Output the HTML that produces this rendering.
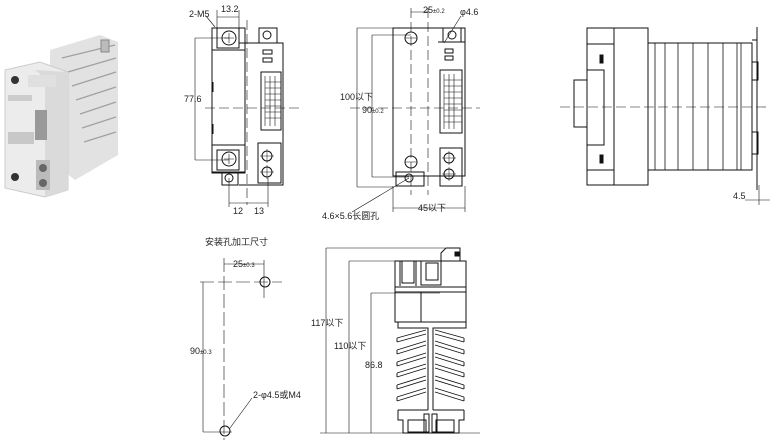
<!DOCTYPE html>
<html><head><meta charset="utf-8"><style>
body{margin:0;background:#fff}
svg{display:block}
text{font-family:"Liberation Sans","Noto Sans CJK SC",sans-serif;fill:#222}
</style></head><body>
<svg width="770" height="440" viewBox="0 0 770 440" xmlns="http://www.w3.org/2000/svg">
<!-- photo -->
<g>
<polygon points="50,50 100,35 118,42 118,155 75,180 50,160" fill="#e2e2e2"/>
<g stroke="#a0a0a0" stroke-width="1.2">
<line x1="62" y1="58" x2="115" y2="45"/><line x1="68" y1="72" x2="116" y2="58"/><line x1="72" y1="86" x2="116" y2="72"/><line x1="76" y1="100" x2="116" y2="87"/><line x1="80" y1="114" x2="116" y2="102"/><line x1="82" y1="128" x2="116" y2="117"/><line x1="84" y1="142" x2="116" y2="132"/></g>
<rect x="101" y="40" width="8" height="12" fill="#bbb" stroke="#888"/>
<polygon points="5,70 40,62 68,72 68,190 45,197 5,188" fill="#ececec" stroke="#ccc"/>
<polygon points="35,70 68,72 68,190 45,197 45,78" fill="#dadada"/>
<rect x="28" y="75" width="28" height="12" fill="#e0e0e0"/>
<circle cx="15" cy="80" r="4" fill="#333"/>
<circle cx="15" cy="177" r="4" fill="#333"/>
<rect x="35" y="110" width="12" height="30" fill="#999"/>
<rect x="8" y="95" width="24" height="6" fill="#ccc"/>
<rect x="8" y="132" width="26" height="12" fill="#c8c8c8"/>
<rect x="36" y="160" width="14" height="30" fill="#bbb"/>
<circle cx="43" cy="168" r="4" fill="#666"/><circle cx="43" cy="183" r="4" fill="#666"/>
</g>
<g fill="none" stroke="#111" stroke-width="1">
<!-- VIEW 1 -->
<rect x="212" y="28" width="33" height="145"/>
<rect x="212" y="28" width="33" height="22"/>
<rect x="217" y="28" width="22" height="20"/>
<circle cx="229" cy="38" r="7"/><path d="M229,33 V43 M224,38 H234" stroke-width="0.6"/>
<rect x="212" y="145" width="33" height="27"/>
<rect x="217" y="150" width="22" height="20"/>
<circle cx="229" cy="159" r="7"/><path d="M229,154 V164 M224,159 H234" stroke-width="0.6"/>
<rect x="222" y="172" width="16" height="13"/><circle cx="229" cy="178" r="4"/>
<path d="M239,43 H283 V185 H239"/>
<rect x="259" y="28" width="18" height="15"/><circle cx="267" cy="35" r="4"/>
<rect x="261" y="72" width="20" height="58"/>
<g stroke-width="0.6"><line x1="265" y1="76" x2="265" y2="126"/><line x1="270" y1="76" x2="270" y2="126"/><line x1="275" y1="76" x2="275" y2="126"/>
<path d="M265,82H281M265,88H281M265,94H281M265,100H281M265,106H281M265,112H281M265,118H281"/></g>
<rect x="263" y="50" width="9" height="4"/><rect x="263" y="58" width="9" height="4"/>
<rect x="258" y="143" width="23" height="40"/>
<circle cx="267" cy="156" r="5"/><circle cx="267" cy="172" r="5"/>
<path d="M267,149V163M260,156H274M267,165V179M260,172H274" stroke-width="0.5"/>
<line x1="213" y1="82" x2="213" y2="92"/><line x1="213" y1="124" x2="213" y2="134"/>
<g stroke-width="0.6"><line x1="205" y1="108" x2="300" y2="108" stroke-dasharray="10,4"/>
<line x1="247" y1="20" x2="247" y2="205" stroke-dasharray="10,4"/>
<line x1="195" y1="38" x2="229" y2="38"/><line x1="195" y1="160" x2="229" y2="160"/>
<line x1="195" y1="38" x2="195" y2="160"/>
<line x1="217" y1="10" x2="217" y2="28"/><line x1="239" y1="10" x2="239" y2="28"/><line x1="217" y1="17" x2="239" y2="17"/>
<line x1="206" y1="16" x2="215" y2="27"/>
<line x1="229" y1="178" x2="229" y2="207"/><line x1="268" y1="178" x2="268" y2="207"/>
<line x1="229" y1="203" x2="268" y2="203"/></g>
<!-- VIEW 2 -->
<rect x="393" y="28" width="72" height="148"/>
<line x1="438" y1="42" x2="465" y2="42"/>
<rect x="443" y="28" width="18" height="14"/><circle cx="452" cy="35" r="4"/>
<circle cx="411" cy="38" r="6"/><circle cx="411" cy="162" r="6"/>
<path d="M405,38H417M405,162H417" stroke-width="0.6"/>
<rect x="396" y="172" width="28" height="14"/><circle cx="409" cy="178" r="4"/>
<rect x="440" y="70" width="22" height="63"/>
<g stroke-width="0.6"><line x1="444" y1="74" x2="444" y2="129"/><line x1="449" y1="74" x2="449" y2="129"/><line x1="454" y1="74" x2="454" y2="129"/>
<path d="M444,80H462M444,86H462M444,92H462M444,98H462M444,104H462M444,110H462M444,116H462M444,122H462"/></g>
<rect x="440" y="148" width="22" height="38"/>
<circle cx="449" cy="158" r="5"/><circle cx="449" cy="174" r="5"/>
<path d="M449,151V165M442,158H456M449,167V181M442,174H456" stroke-width="0.5"/>
<rect x="445" y="49" width="8" height="4"/><rect x="445" y="56" width="8" height="4"/>
<g stroke-width="0.6">
<line x1="350" y1="108" x2="480" y2="108" stroke-dasharray="10,4"/>
<line x1="411" y1="8" x2="411" y2="195" stroke-dasharray="10,4"/>
<line x1="428" y1="8" x2="428" y2="195" stroke-dasharray="10,4"/>
<line x1="357" y1="28" x2="393" y2="28"/><line x1="357" y1="187" x2="393" y2="187"/><line x1="357" y1="28" x2="357" y2="187"/>
<line x1="372" y1="35" x2="411" y2="35"/><line x1="372" y1="177" x2="409" y2="177"/><line x1="372" y1="35" x2="372" y2="177"/>
<line x1="393" y1="186" x2="393" y2="212"/><line x1="465" y1="186" x2="465" y2="212"/><line x1="393" y1="208" x2="465" y2="208"/>
<line x1="411" y1="12" x2="428" y2="12"/>
<line x1="444" y1="43" x2="461" y2="16"/>
<line x1="352" y1="212" x2="409" y2="178"/></g>
<!-- VIEW 3 side -->
<rect x="587" y="28" width="61" height="157"/>
<line x1="614" y1="28" x2="614" y2="185"/>
<line x1="587" y1="44" x2="614" y2="44"/><line x1="587" y1="170" x2="614" y2="170"/>
<rect x="574" y="80" width="13" height="47"/>
<path d="M587,70 H604 V145 H587"/>
<rect x="600" y="55" width="3" height="8" fill="#111"/><rect x="600" y="155" width="3" height="8" fill="#111"/>
<rect x="648" y="43" width="104" height="127"/>
<g stroke-width="0.8"><line x1="655" y1="43" x2="655" y2="170"/><line x1="665" y1="43" x2="665" y2="170"/><line x1="678" y1="43" x2="678" y2="170"/><line x1="693" y1="43" x2="693" y2="170"/><line x1="708" y1="43" x2="708" y2="170"/><line x1="723" y1="43" x2="723" y2="170"/><line x1="737" y1="43" x2="737" y2="170"/><line x1="741" y1="43" x2="741" y2="170"/></g>
<path d="M752,40 H757 V27 M757,27 V190"/>
<rect x="752" y="62" width="6" height="18"/><rect x="752" y="132" width="6" height="22"/>
<g stroke-width="0.6"><line x1="560" y1="107" x2="770" y2="107" stroke-dasharray="10,4"/>
<line x1="745" y1="200" x2="770" y2="200"/><line x1="759" y1="185" x2="759" y2="205"/></g>
<!-- VIEW 4 cutout -->
<g stroke-width="0.6">
<line x1="224" y1="258" x2="224" y2="440" stroke-dasharray="14,4"/>
<line x1="200" y1="282" x2="282" y2="282" stroke-dasharray="14,4"/>
<line x1="264" y1="260" x2="264" y2="298"/>
<line x1="224" y1="264" x2="264" y2="264"/>
<line x1="203" y1="282" x2="203" y2="432"/><line x1="203" y1="432" x2="232" y2="432"/>
<line x1="230" y1="428" x2="252" y2="398"/></g>
<circle cx="265" cy="282" r="5"/><circle cx="225" cy="431" r="5"/>
<!-- VIEW 5 -->
<g stroke-width="0.6">
<line x1="326" y1="248" x2="326" y2="433"/><line x1="326" y1="248" x2="445" y2="248"/>
<line x1="349" y1="261" x2="349" y2="433"/><line x1="349" y1="261" x2="395" y2="261"/>
<line x1="371" y1="293" x2="371" y2="433"/><line x1="371" y1="293" x2="440" y2="293"/>
<line x1="320" y1="433" x2="480" y2="433"/></g>
<rect x="395" y="261" width="71" height="61"/>
<line x1="395" y1="287" x2="466" y2="287"/><line x1="395" y1="292" x2="466" y2="292"/>
<line x1="421" y1="292" x2="421" y2="322"/>
<path d="M400,261 V286 M416,261 V286 M402,261 V283 H414 V261"/>
<rect x="426" y="263" width="12" height="17"/><rect x="421" y="261" width="20" height="24"/>
<path d="M441,261 V253 L446,248 H460 V261"/><rect x="455" y="252" width="4" height="4" fill="#111"/>
<path d="M398,322 V328 H428 V410 M466,322 V328 H433 V410"/>
<g stroke-width="0.9">
<path d="M397,338 L426,330 M397,342 L426,334 M397,338 V342"/>
<path d="M397,350 L426,341 M397,354 L426,345 M397,350 V354"/>
<path d="M397,362 L426,353 M397,366 L426,357 M397,362 V366"/>
<path d="M397,373 L426,364 M397,377 L426,368 M397,373 V377"/>
<path d="M397,385 L426,376 M397,389 L426,380 M397,385 V389"/>
<path d="M397,397 L426,388 M397,401 L426,392 M397,397 V401"/>
<path d="M464,338 L435,330 M464,342 L435,334 M464,338 V342"/>
<path d="M464,350 L435,341 M464,354 L435,345 M464,350 V354"/>
<path d="M464,362 L435,353 M464,366 L435,357 M464,362 V366"/>
<path d="M464,373 L435,364 M464,377 L435,368 M464,373 V377"/>
<path d="M464,385 L435,376 M464,389 L435,380 M464,385 V389"/>
<path d="M464,397 L435,388 M464,401 L435,392 M464,397 V401"/>
</g>
<path d="M398,410 L428,410 M433,410 L464,410 M398,410 V420 H403 V433 H459 V420 H464 V410"/>
<rect x="408" y="420" width="18" height="12"/><rect x="436" y="420" width="18" height="12"/>
<rect x="424" y="414" width="5" height="18"/><rect x="432" y="414" width="5" height="18"/>
</g>
<!-- text -->
<g font-size="9">
<text x="189" y="17">2-M5</text><text x="221" y="12">13.2</text>
<text x="184" y="102">77.6</text>
<text x="233" y="214">12</text><text x="254" y="214">13</text>
<text x="340" y="100">100以下</text>
<text x="362" y="113">90<tspan font-size="6">±0.2</tspan></text>
<text x="423" y="13">25<tspan font-size="6">±0.2</tspan></text>
<text x="460" y="15">φ4.6</text>
<text x="418" y="211">45以下</text>
<text x="322" y="219">4.6×5.6长圆孔</text>
<text x="733" y="199">4.5</text>
<text x="205" y="245">安装孔加工尺寸</text>
<text x="233" y="267">25<tspan font-size="6">±0.3</tspan></text>
<text x="190" y="354">90<tspan font-size="6">±0.3</tspan></text>
<text x="253" y="398">2-φ4.5或M4</text>
<text x="311" y="326">117以下</text>
<text x="334" y="349">110以下</text>
<text x="365" y="368">86.8</text>
</g>
</svg>
</body></html>
